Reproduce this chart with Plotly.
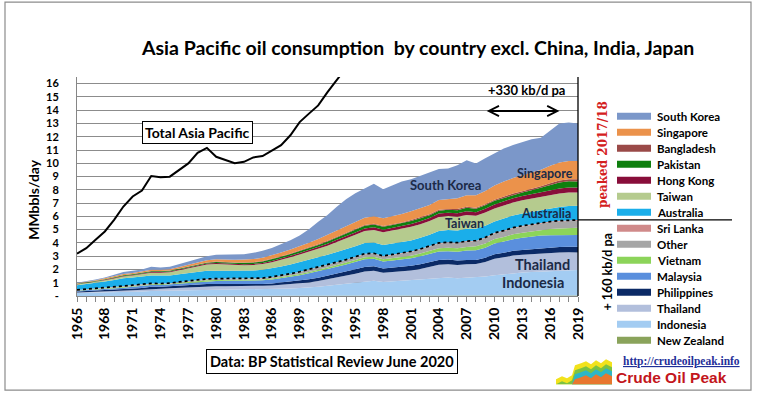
import plotly.graph_objects as go

years = list(range(1965, 2020))

new_zealand = [0.00, 0.00, 0.00, 0.00, 0.00, 0.00, 0.00, 0.00, 0.00, 0.00,
               0.00, 0.00, 0.00, 0.00, 0.00, 0.00, 0.00, 0.00, 0.00, 0.00,
               0.00, 0.00, 0.00, 0.00, 0.00, 0.00, 0.00, 0.00, 0.00, 0.00,
               0.00, 0.00, 0.00, 0.00, 0.00, 0.00, 0.00, 0.00, 0.04, 0.04,
               0.04, 0.04, 0.04, 0.04, 0.04, 0.04, 0.04, 0.04, 0.04, 0.04,
               0.04, 0.04, 0.04, 0.04, 0.04]
indonesia = [0.22, 0.23, 0.25, 0.27, 0.28, 0.30, 0.32, 0.34, 0.37, 0.38,
             0.40, 0.42, 0.44, 0.46, 0.47, 0.48, 0.50, 0.51, 0.50, 0.50,
             0.52, 0.53, 0.55, 0.57, 0.60, 0.63, 0.70, 0.78, 0.85, 0.90,
             0.98, 1.07, 1.15, 1.05, 1.10, 1.15, 1.20, 1.24, 1.28, 1.34,
             1.35, 1.30, 1.33, 1.35, 1.42, 1.52, 1.60, 1.70, 1.73, 1.76,
             1.80, 1.84, 1.88, 1.91, 1.92]
thailand = [0.05, 0.06, 0.07, 0.08, 0.09, 0.10, 0.12, 0.14, 0.17, 0.17,
            0.18, 0.20, 0.22, 0.24, 0.25, 0.25, 0.24, 0.23, 0.24, 0.25,
            0.25, 0.27, 0.30, 0.33, 0.35, 0.38, 0.43, 0.48, 0.55, 0.62,
            0.70, 0.77, 0.76, 0.70, 0.70, 0.70, 0.72, 0.80, 0.88, 0.97,
            1.00, 1.00, 1.02, 1.02, 1.10, 1.25, 1.28, 1.32, 1.34, 1.36,
            1.38, 1.36, 1.35, 1.34, 1.32]
philippines = [0.07, 0.08, 0.08, 0.09, 0.10, 0.10, 0.12, 0.13, 0.15, 0.15,
               0.17, 0.18, 0.18, 0.19, 0.19, 0.18, 0.17, 0.16, 0.15, 0.13,
               0.13, 0.15, 0.17, 0.19, 0.22, 0.25, 0.25, 0.27, 0.29, 0.31,
               0.33, 0.35, 0.33, 0.32, 0.33, 0.34, 0.35, 0.35, 0.36, 0.37,
               0.36, 0.33, 0.33, 0.31, 0.32, 0.33, 0.33, 0.34, 0.35, 0.36,
               0.38, 0.40, 0.42, 0.43, 0.44]
malaysia = [0.05, 0.06, 0.07, 0.08, 0.10, 0.13, 0.13, 0.14, 0.14, 0.13,
            0.13, 0.15, 0.17, 0.19, 0.21, 0.22, 0.24, 0.25, 0.26, 0.27,
            0.28, 0.30, 0.33, 0.36, 0.40, 0.45, 0.48, 0.50, 0.52, 0.54,
            0.56, 0.58, 0.57, 0.53, 0.55, 0.56, 0.58, 0.60, 0.61, 0.63,
            0.63, 0.66, 0.70, 0.72, 0.76, 0.82, 0.85, 0.88, 0.92, 0.94,
            0.95, 0.93, 0.90, 0.88, 0.87]
vietnam = [0.02, 0.03, 0.04, 0.05, 0.05, 0.05, 0.05, 0.05, 0.05, 0.04,
           0.03, 0.04, 0.05, 0.06, 0.07, 0.07, 0.06, 0.06, 0.06, 0.06,
           0.06, 0.07, 0.07, 0.08, 0.09, 0.10, 0.10, 0.11, 0.12, 0.13,
           0.14, 0.15, 0.15, 0.16, 0.17, 0.18, 0.19, 0.21, 0.23, 0.25,
           0.25, 0.26, 0.28, 0.30, 0.32, 0.33, 0.35, 0.37, 0.39, 0.41,
           0.43, 0.47, 0.50, 0.53, 0.55]
other = [0.03, 0.03, 0.04, 0.04, 0.05, 0.06, 0.06, 0.06, 0.05, 0.05,
         0.04, 0.05, 0.06, 0.07, 0.08, 0.08, 0.08, 0.08, 0.08, 0.08,
         0.08, 0.09, 0.10, 0.12, 0.14, 0.17, 0.18, 0.19, 0.20, 0.21,
         0.22, 0.23, 0.22, 0.22, 0.24, 0.26, 0.28, 0.30, 0.32, 0.35,
         0.37, 0.38, 0.39, 0.38, 0.40, 0.42, 0.43, 0.45, 0.46, 0.48,
         0.50, 0.51, 0.52, 0.53, 0.53]
sri_lanka = [0.02, 0.02, 0.02, 0.02, 0.02, 0.02, 0.02, 0.02, 0.02, 0.02,
             0.02, 0.02, 0.02, 0.02, 0.02, 0.03, 0.03, 0.03, 0.03, 0.03,
             0.03, 0.03, 0.03, 0.03, 0.03, 0.03, 0.03, 0.03, 0.03, 0.03,
             0.03, 0.04, 0.04, 0.04, 0.04, 0.04, 0.04, 0.04, 0.04, 0.05,
             0.05, 0.05, 0.05, 0.05, 0.05, 0.05, 0.05, 0.05, 0.06, 0.06,
             0.06, 0.06, 0.06, 0.06, 0.06]
australia = [0.35, 0.38, 0.42, 0.46, 0.52, 0.58, 0.58, 0.58, 0.60, 0.60,
             0.58, 0.58, 0.60, 0.61, 0.62, 0.60, 0.59, 0.58, 0.58, 0.60,
             0.63, 0.65, 0.67, 0.70, 0.72, 0.74, 0.74, 0.75, 0.76, 0.78,
             0.79, 0.80, 0.81, 0.82, 0.83, 0.82, 0.83, 0.84, 0.85, 0.90,
             0.92, 0.92, 0.92, 0.90, 0.88, 0.86, 0.90, 0.92, 0.93, 0.94,
             0.95, 0.99, 1.03, 1.06, 1.07]
taiwan = [0.05, 0.06, 0.07, 0.09, 0.10, 0.12, 0.14, 0.17, 0.20, 0.21,
          0.24, 0.30, 0.34, 0.40, 0.46, 0.50, 0.46, 0.43, 0.42, 0.42,
          0.43, 0.46, 0.50, 0.54, 0.57, 0.60, 0.63, 0.68, 0.75, 0.80,
          0.86, 0.90, 0.95, 0.96, 0.98, 1.00, 1.02, 1.02, 1.04, 1.06,
          1.05, 1.03, 1.04, 0.98, 1.00, 0.98, 1.00, 0.98, 1.00, 1.00,
          1.00, 1.02, 1.03, 1.02, 1.00]
hong_kong = [0.03, 0.03, 0.04, 0.04, 0.05, 0.05, 0.05, 0.06, 0.06, 0.06,
             0.06, 0.06, 0.07, 0.07, 0.07, 0.07, 0.07, 0.08, 0.08, 0.08,
             0.08, 0.09, 0.10, 0.11, 0.12, 0.13, 0.14, 0.15, 0.16, 0.17,
             0.18, 0.19, 0.20, 0.19, 0.19, 0.20, 0.22, 0.23, 0.23, 0.25,
             0.25, 0.26, 0.28, 0.26, 0.28, 0.30, 0.30, 0.31, 0.31, 0.32,
             0.33, 0.34, 0.36, 0.37, 0.37]
pakistan = [0.03, 0.03, 0.03, 0.04, 0.04, 0.05, 0.05, 0.05, 0.05, 0.05,
            0.05, 0.06, 0.06, 0.07, 0.07, 0.08, 0.08, 0.09, 0.10, 0.10,
            0.11, 0.12, 0.13, 0.13, 0.14, 0.15, 0.16, 0.17, 0.18, 0.19,
            0.20, 0.21, 0.21, 0.22, 0.22, 0.23, 0.23, 0.22, 0.21, 0.21,
            0.22, 0.24, 0.26, 0.26, 0.26, 0.27, 0.27, 0.27, 0.27, 0.29,
            0.33, 0.40, 0.46, 0.47, 0.46]
bangladesh = [0.01, 0.01, 0.01, 0.01, 0.01, 0.01, 0.01, 0.01, 0.02, 0.02,
              0.02, 0.02, 0.02, 0.02, 0.02, 0.03, 0.03, 0.03, 0.03, 0.03,
              0.03, 0.04, 0.04, 0.04, 0.04, 0.04, 0.05, 0.05, 0.05, 0.05,
              0.05, 0.06, 0.06, 0.06, 0.06, 0.06, 0.07, 0.07, 0.07, 0.07,
              0.07, 0.08, 0.08, 0.08, 0.08, 0.08, 0.10, 0.10, 0.10, 0.10,
              0.12, 0.13, 0.15, 0.16, 0.17]
singapore = [0.03, 0.04, 0.05, 0.06, 0.07, 0.08, 0.09, 0.09, 0.10, 0.09,
             0.09, 0.10, 0.12, 0.14, 0.16, 0.18, 0.19, 0.21, 0.22, 0.23,
             0.25, 0.27, 0.29, 0.31, 0.33, 0.35, 0.40, 0.44, 0.48, 0.51,
             0.54, 0.55, 0.56, 0.58, 0.60, 0.63, 0.66, 0.68, 0.70, 0.74,
             0.76, 0.82, 0.88, 0.94, 1.00, 1.08, 1.12, 1.16, 1.19, 1.22,
             1.25, 1.32, 1.36, 1.37, 1.37]
south_korea = [0.04, 0.05, 0.06, 0.07, 0.12, 0.15, 0.16, 0.16, 0.22, 0.18,
               0.19, 0.22, 0.25, 0.26, 0.31, 0.33, 0.38, 0.38, 0.40, 0.47,
               0.52, 0.55, 0.60, 0.69, 0.80, 1.00, 1.31, 1.50, 1.78, 2.04,
               2.16, 2.20, 2.44, 2.19, 2.35, 2.45, 2.41, 2.44, 2.44, 2.33,
               2.29, 2.49, 2.62, 2.40, 2.46, 2.41, 2.50, 2.48, 2.52, 2.53,
               2.40, 2.68, 2.93, 2.90, 2.83]

total_years = list(range(1965, 1996))
total_asia_pacific = [3.19, 3.60, 4.24, 4.86, 5.74, 6.74, 7.50, 7.94, 9.04, 8.94,
                      8.99, 9.49, 9.99, 10.79, 11.16, 10.49, 10.24, 10.00, 10.11, 10.44,
                      10.54, 10.94, 11.37, 12.11, 13.10, 13.74, 14.36, 15.36, 16.24, 17.20,
                      18.10]

# stacking order bottom -> top
series_names = ["New Zealand", "Indonesia", "Thailand", "Philippines", "Malaysia",
                "Vietnam", "Other", "Sri Lanka", "Australia", "Taiwan", "Hong Kong",
                "Pakistan", "Bangladesh", "Singapore", "South Korea"]
series_values = [new_zealand, indonesia, thailand, philippines, malaysia, vietnam,
                 other, sri_lanka, australia, taiwan, hong_kong, pakistan,
                 bangladesh, singapore, south_korea]
series_colors = ["#8AA35B", "#A3CCF2", "#B2BFDC", "#0B2A66", "#5A8FDD",
                 "#8CD45A", "#A6A6A6", "#D08A8A", "#1AAEEA", "#B5CB8E",
                 "#880E3A", "#0E7F0E", "#9A4A48", "#EB924B", "#7B97C9"]

y_ticks = list(range(0, 17))
y_tick_labels = ["-"] + [str(v) for v in range(1, 17)]

FONT = "Lato"
W, H = 760, 399
PL, PR, PT, PB = 77, 578, 76.7, 296.5

fig = go.Figure()
for name, vals, col in zip(series_names, series_values, series_colors):
    if name == "Sri Lanka":
        line = dict(color="black", width=1.7, dash="dot")
    else:
        line = dict(width=0, color=col)
    fig.add_trace(go.Scatter(x=years, y=vals, name=name, mode="lines",
                             stackgroup="one", fillcolor=col, line=line,
                             showlegend=False, hoverinfo="x+y+name"))

fig.add_trace(go.Scatter(x=total_years, y=total_asia_pacific, mode="lines",
                         line=dict(color="black", width=2), showlegend=False,
                         name="Total Asia Pacific"))


def px_x(p):
    return (p - PL) / (PR - PL)


def px_y(p):
    return (PB - p) / (PB - PT)


n = len(years) - 1
split_2019 = sum(v[n] for v in series_values[:8])
top_2019 = sum(v[n] for v in series_values)

ann = []
bold = dict(family=FONT, weight="bold")


def text_ann(x, y, text, font, xref="paper", yref="paper", xanchor="center", **kw):
    d = dict(x=x, y=y, xref=xref, yref=yref, text=text, showarrow=False,
             xanchor=xanchor, yanchor="middle", font=font)
    d.update(kw)
    return d


ann.append(text_ann(px_x(417), px_y(47),
                    "Asia Pacific oil consumption\u00a0 by country excl. China, India, Japan",
                    dict(size=19.5, color="black", **bold)))
ann.append(text_ann(px_x(34), px_y(200), "MMbbls/day",
                    dict(size=14, color="black", **bold), textangle=-90))
ann.append(text_ann(1978.0, 12.34, "Total Asia Pacific", dict(size=14, color="black", **bold),
                    xref="x", yref="y", bgcolor="white", bordercolor="black",
                    borderwidth=1, borderpad=2))

label_color = "#1B2A47"
area_labels = [("South Korea", 2004.7, 8.36, 13), ("Singapore", 2015.4, 9.26, 12.5),
               ("Taiwan", 2006.8, 5.44, 12.5), ("Australia", 2015.5, 6.19, 12.5),
               ("Thailand", 2015.2, 2.36, 14.5), ("Indonesia", 2014.2, 1.01, 14.5)]
for txt, xv, yv, sz in area_labels:
    ann.append(text_ann(xv, yv, txt, dict(size=sz, color=label_color, **bold),
                        xref="x", yref="y"))

# +330 kb/d pa
ann.append(text_ann(2013.5, 15.5, "+330 kb/d pa", dict(size=13, color="black", **bold),
                    xref="x", yref="y"))
arrow_style = dict(text="", showarrow=True, arrowside="end+start", arrowhead=5,
                   startarrowhead=5, arrowsize=1.1, startarrowsize=1.1, arrowwidth=1.8,
                   xref="x", yref="y", axref="x", ayref="y")
ann.append(dict(x=2017, y=13.94, ax=2009, ay=13.94, arrowcolor="black", **arrow_style))
ann.append(dict(x=2020, y=top_2019 + 0.3, ax=2020, ay=split_2019, arrowcolor="#E02020",
                **arrow_style))
ann.append(dict(x=2020, y=-0.3, ax=2020, ay=split_2019, arrowcolor="black", **arrow_style))
ann.append(text_ann(px_x(603), px_y(155), "peaked 2017/18",
                    dict(size=12, color="#D42020", family="DejaVu Serif", weight="bold"),
                    textangle=-90))
ann.append(text_ann(px_x(608), px_y(272), "+ 160 kb/d pa",
                    dict(size=12.5, color="black", **bold), textangle=-90))

ann.append(text_ann(px_x(331.5), px_y(362), "Data: BP Statistical Review June 2020",
                    dict(size=14.5, color="black", **bold), bordercolor="black",
                    borderwidth=1, borderpad=3, bgcolor="white"))
ann.append(text_ann(px_x(681), px_y(362), "<u>http://crudeoilpeak.info</u>",
                    dict(size=11.5, color="#1F2F99", family="Liberation Serif", weight="bold")))
ann.append(text_ann(px_x(671), px_y(378), "Crude Oil Peak",
                    dict(size=15.5, color="#C3161C", family="Liberation Sans", weight="bold")))

shapes = []
# manual legend (top to bottom)
legend_order = list(range(len(series_names)))[::-1]
for i, k in enumerate(legend_order):
    yc = 116 + 16.07 * i
    shapes.append(dict(type="rect", xref="paper", yref="paper",
                       x0=px_x(617), x1=px_x(651), y0=px_y(yc - 3.5), y1=px_y(yc + 3.5),
                       fillcolor=series_colors[k], line=dict(width=0)))
    ann.append(text_ann(px_x(655), px_y(yc), series_names[k],
                        dict(size=11.5, color="black", **bold), xanchor="left"))

# right black boundary of plot area
shapes.append(dict(type="line", xref="x domain", yref="y domain", x0=1, x1=1, y0=0, y1=1,
                   line=dict(color="black", width=1.3)))
# horizontal separator line at 2019 split
shapes.append(dict(type="line", xref="paper", yref="y", x0=1, x1=px_x(732),
                   y0=split_2019, y1=split_2019, line=dict(color="black", width=1.3)))
# outer frame
shapes.append(dict(type="rect", xref="paper", yref="paper", x0=px_x(5), x1=px_x(751),
                   y0=px_y(391), y1=px_y(1.5), line=dict(color="#8C8C8C", width=1.2)))

# small decorative logo next to "Crude Oil Peak"
logo_top = [(556, 380), (562, 377), (567, 379), (572, 376), (575, 366), (581, 364),
            (586, 362), (591, 365), (596, 361), (601, 364), (606, 360), (612, 363)]
logo_layers = [(0, "#F2E21C"), (5, "#7CC242"), (9, "#2DB6C6"), (14, "#E8772E")]
for off, colr in logo_layers:
    pts = [(x, min(y + off, 385)) for x, y in logo_top]
    path = "M {},{} ".format(px_x(556), px_y(385))
    path += " ".join("L {},{}".format(px_x(x), px_y(y)) for x, y in pts)
    path += " L {},{} Z".format(px_x(612), px_y(385))
    shapes.append(dict(type="path", xref="paper", yref="paper", path=path,
                       fillcolor=colr, line=dict(width=0)))

fig.update_layout(
    width=W, height=H,
    margin=dict(l=PL, r=W - PR, t=PT, b=H - PB, autoexpand=False),
    paper_bgcolor="white", plot_bgcolor="white",
    showlegend=False,
    annotations=ann, shapes=shapes,
    xaxis=dict(range=[1965, 2019], tickmode="linear", tick0=1965, dtick=3,
               tickangle=-90, ticks="outside", ticklen=5, tickcolor="#868686",
               minor=dict(dtick=1, ticks="outside", ticklen=5, tickcolor="#868686"),
               showline=True, linecolor="#868686", linewidth=1, showgrid=False,
               zeroline=False, automargin=False,
               tickfont=dict(size=14, color="black", **bold)),
    yaxis=dict(range=[0, 16.5], tickvals=y_ticks, ticktext=y_tick_labels,
               showgrid=True, gridcolor="#8C8C8C", gridwidth=1, zeroline=False,
               showline=True, linecolor="#868686", linewidth=1, ticks="",
               ticklabelstandoff=15, automargin=False,
               tickfont=dict(size=11, color="black", **bold)),
)

fig.write_html("out.html", config={"displayModeBar": False},
               post_script="document.body.style.margin='0';document.body.style.overflow='hidden';")
